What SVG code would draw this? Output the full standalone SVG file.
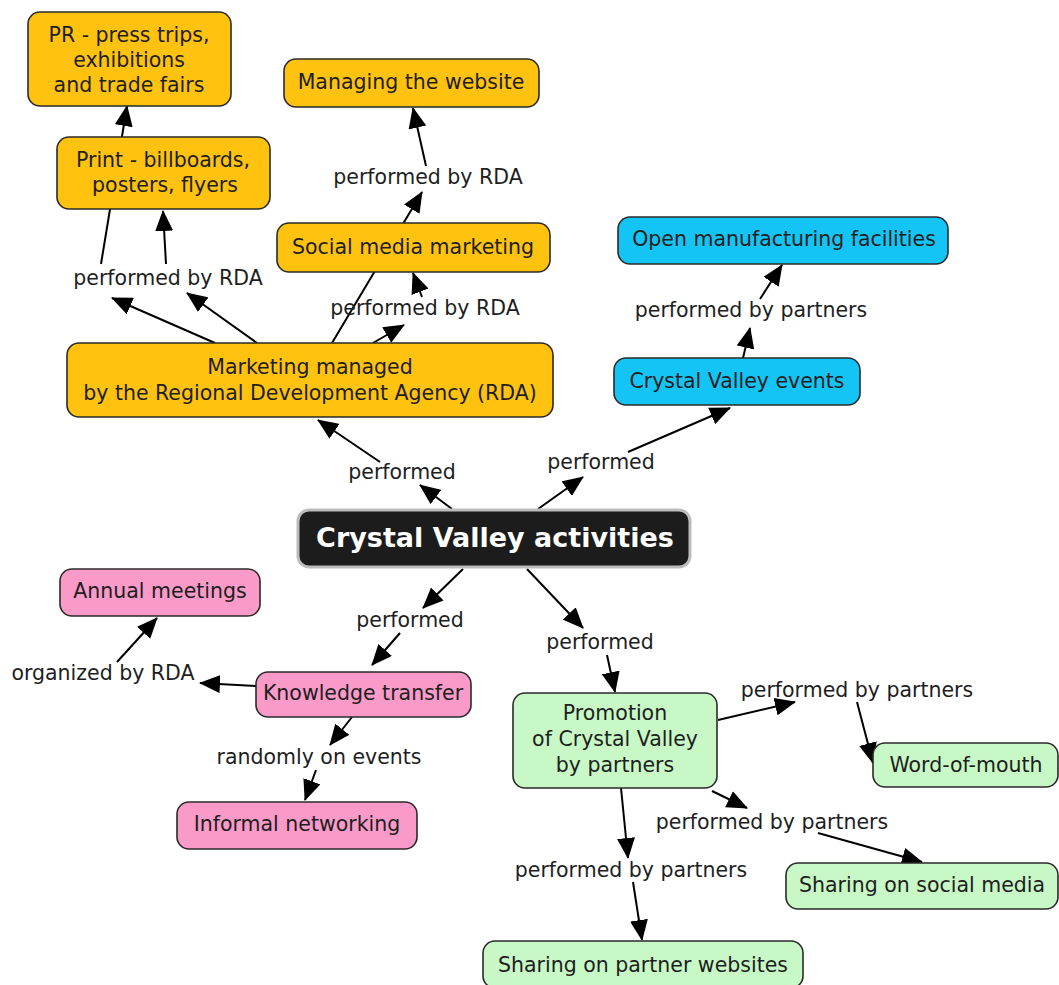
<svg xmlns="http://www.w3.org/2000/svg" width="1059" height="985" viewBox="0 0 1059 985">
<defs>
<marker id="ah" markerUnits="userSpaceOnUse" markerWidth="21" markerHeight="18" refX="20" refY="9" orient="auto">
<path d="M0,0 L21,9 L0,18 z" fill="#000"/>
</marker>
<style>
.n rect{stroke:#2a2a2a;stroke-width:1.6}
.y rect{fill:#FFC20E}
.b rect{fill:#14C4F4}
.p rect{fill:#F99AC9}
.g rect{fill:#C7F8C5}
text{font-family:"DejaVu Sans",Verdana,sans-serif;font-size:20.5px;fill:#1e1e1e;text-anchor:middle}
.c line{stroke:#000;stroke-width:2;marker-end:url(#ah)}
.lbl text{fill:#1e1e1e}
</style>
</defs>
<rect width="1059" height="985" fill="#fff"/>
<g id="connectors" class="c">
<line x1="101" y1="264" x2="127" y2="106"/>
<line x1="166" y1="264" x2="163" y2="211"/>
<line x1="215" y1="343" x2="112" y2="298"/>
<line x1="257" y1="343" x2="187" y2="293"/>
<line x1="332" y1="343" x2="422" y2="192"/>
<line x1="426" y1="166" x2="413" y2="108"/>
<line x1="373" y1="343" x2="404" y2="325"/>
<line x1="422" y1="297" x2="413" y2="273"/>
<line x1="743" y1="358" x2="750" y2="328"/>
<line x1="760" y1="299" x2="782" y2="265"/>
<line x1="380" y1="462" x2="318" y2="420"/>
<line x1="452" y1="509" x2="420" y2="485"/>
<line x1="538" y1="509" x2="583" y2="477"/>
<line x1="628" y1="452" x2="730" y2="408"/>
<line x1="463" y1="569" x2="423" y2="608"/>
<line x1="400" y1="633" x2="372" y2="665"/>
<line x1="527" y1="569" x2="583" y2="628"/>
<line x1="607" y1="655" x2="615" y2="692"/>
<line x1="117" y1="662" x2="157" y2="618"/>
<line x1="256" y1="686" x2="200" y2="683"/>
<line x1="352" y1="717" x2="330" y2="745"/>
<line x1="316" y1="770" x2="305" y2="800"/>
<line x1="718" y1="720" x2="795" y2="702"/>
<line x1="857" y1="702" x2="873" y2="763"/>
<line x1="712" y1="791" x2="747" y2="808"/>
<line x1="818" y1="833" x2="922" y2="862"/>
<line x1="621" y1="788" x2="628" y2="858"/>
<line x1="633" y1="882" x2="642" y2="940"/>
</g>
<g id="link-labels" class="lbl">
<text x="168" y="285">performed by RDA</text>
<text x="428" y="184">performed by RDA</text>
<text x="425" y="315">performed by RDA</text>
<text x="751" y="317">performed by partners</text>
<text x="402" y="479">performed</text>
<text x="601" y="469">performed</text>
<text x="410" y="627">performed</text>
<text x="600" y="649">performed</text>
<text x="103" y="680">organized by RDA</text>
<text x="319" y="764">randomly on events</text>
<text x="857" y="697">performed by partners</text>
<text x="772" y="829">performed by partners</text>
<text x="631" y="877">performed by partners</text>
</g>
<g id="pr" class="n y"><rect x="28" y="12" width="203" height="94" rx="12"/><text x="129" y="42">PR - press trips,</text><text x="129" y="67">exhibitions</text><text x="129" y="92">and trade fairs</text></g>
<g id="print" class="n y"><rect x="57" y="137" width="213" height="72" rx="12"/><text x="163" y="167">Print - billboards,</text><text x="165" y="192">posters, flyers</text></g>
<g id="website" class="n y"><rect x="284" y="59" width="255" height="48" rx="12"/><text x="411" y="89">Managing the website</text></g>
<g id="social" class="n y"><rect x="277" y="223" width="273" height="49" rx="12"/><text x="413" y="254">Social media marketing</text></g>
<g id="marketing" class="n y"><rect x="67" y="343" width="486" height="74" rx="12"/><text x="310" y="374">Marketing managed</text><text x="310" y="400">by the Regional Development Agency (RDA)</text></g>
<g id="open" class="n b"><rect x="618" y="217" width="330" height="47" rx="12"/><text x="784" y="246">Open manufacturing facilities</text></g>
<g id="events" class="n b"><rect x="614" y="358" width="246" height="47" rx="12"/><text x="737" y="388">Crystal Valley events</text></g>
<g id="central"><rect x="298" y="510" width="392" height="57" rx="11" fill="#1c1c1c" stroke="#bcbcbc" stroke-width="3"/><text x="495" y="547" style="font-size:27px;font-weight:bold;fill:#fff">Crystal Valley activities</text></g>
<g id="annual" class="n p"><rect x="60" y="569" width="200" height="47" rx="12"/><text x="160" y="598">Annual meetings</text></g>
<g id="knowledge" class="n p"><rect x="256" y="672" width="215" height="45" rx="12"/><text x="363" y="700">Knowledge transfer</text></g>
<g id="informal" class="n p"><rect x="177" y="802" width="240" height="47" rx="12"/><text x="297" y="831">Informal networking</text></g>
<g id="promotion" class="n g"><rect x="513" y="693" width="204" height="95" rx="12"/><text x="615" y="720">Promotion</text><text x="615" y="746">of Crystal Valley</text><text x="615" y="772">by partners</text></g>
<g id="wom" class="n g"><rect x="873" y="743" width="185" height="44" rx="12"/><text x="966" y="772">Word-of-mouth</text></g>
<g id="sharesocial" class="n g"><rect x="786" y="863" width="272" height="46" rx="12"/><text x="922" y="892">Sharing on social media</text></g>
<g id="sharepartner" class="n g"><rect x="483" y="941" width="320" height="47" rx="12"/><text x="643" y="972">Sharing on partner websites</text></g>
</svg>
